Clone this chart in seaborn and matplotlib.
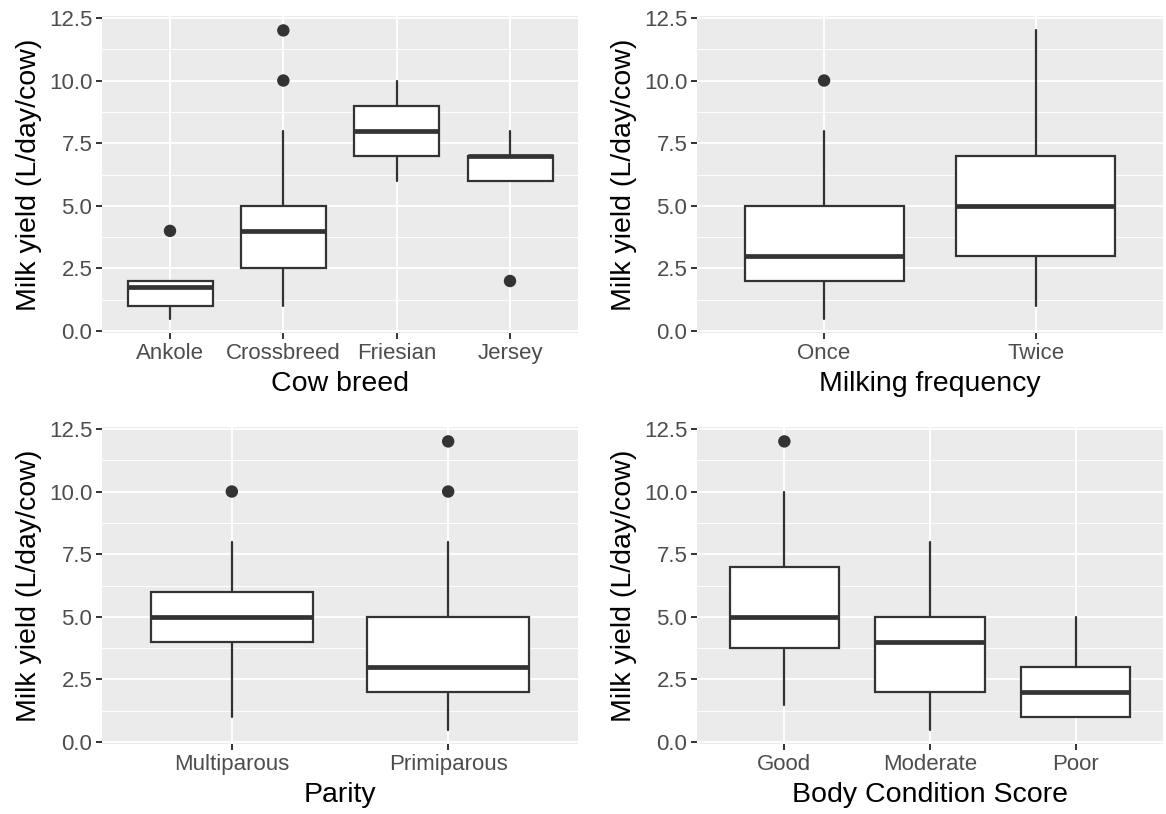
import matplotlib
matplotlib.use("Agg")
import matplotlib.pyplot as plt
import numpy as np
import pandas as pd
import seaborn as sns
from matplotlib.ticker import MultipleLocator, FormatStrFormatter

# ---------------- data (summary statistics) ----------------
breed_cats = ["Ankole", "Crossbreed", "Friesian", "Jersey"]
breed_wlo = [0.5, 1.0, 6.0, 6.0]
breed_q1 = [1.0, 2.5, 7.0, 6.0]
breed_med = [1.75, 4.0, 8.0, 7.0]
breed_q3 = [2.0, 5.0, 9.0, 7.0]
breed_whi = [2.0, 8.0, 10.0, 8.0]
breed_out = [[4.0], [10.0, 12.0], [], [2.0]]

freq_cats = ["Once", "Twice"]
freq_wlo = [0.5, 1.0]
freq_q1 = [2.0, 3.0]
freq_med = [3.0, 5.0]
freq_q3 = [5.0, 7.0]
freq_whi = [8.0, 12.0]
freq_out = [[10.0], []]

parity_cats = ["Multiparous", "Primiparous"]
parity_wlo = [1.0, 0.5]
parity_q1 = [4.0, 2.0]
parity_med = [5.0, 3.0]
parity_q3 = [6.0, 5.0]
parity_whi = [8.0, 8.0]
parity_out = [[10.0], [10.0, 12.0]]

bcs_cats = ["Good", "Moderate", "Poor"]
bcs_wlo = [1.5, 0.5, 1.0]
bcs_q1 = [3.75, 2.0, 1.0]
bcs_med = [5.0, 4.0, 2.0]
bcs_q3 = [7.0, 5.0, 3.0]
bcs_whi = [10.0, 8.0, 5.0]
bcs_out = [[12.0], [], []]

y_label = "Milk yield (L/day/cow)"

panels = [
    ("Cow breed", breed_cats, breed_wlo, breed_q1, breed_med, breed_q3, breed_whi, breed_out),
    ("Milking frequency", freq_cats, freq_wlo, freq_q1, freq_med, freq_q3, freq_whi, freq_out),
    ("Parity", parity_cats, parity_wlo, parity_q1, parity_med, parity_q3, parity_whi, parity_out),
    ("Body Condition Score", bcs_cats, bcs_wlo, bcs_q1, bcs_med, bcs_q3, bcs_whi, bcs_out),
]

# ---------------- style ----------------
sns.set_theme(style="darkgrid", rc={
    "axes.facecolor": "#EBEBEB",
    "grid.color": "white",
    "axes.edgecolor": "none",
})
plt.rcParams["font.family"] = ["Liberation Sans", "DejaVu Sans"]

W, H = 1166, 814
fig = plt.figure(figsize=(W / 100, H / 100), dpi=100)
fig.patch.set_facecolor("white")

# axes rectangles in pixels: (left, top, right, bottom)
rects_px = [
    (102, 16, 578, 333),
    (697, 16, 1163, 333),
    (102, 427, 578, 744),
    (697, 427, 1163, 744),
]

LINE = "#333333"

for (xlabel, cats, wlo, q1, med, q3, whi, outs), (l, t, r, b) in zip(panels, rects_px):
    ax = fig.add_axes([l / W, 1 - b / H, (r - l) / W, (b - t) / H])
    n = len(cats)
    pos = np.arange(n)
    stats = []
    for i in range(n):
        stats.append(dict(med=med[i], q1=q1[i], q3=q3[i],
                          whislo=wlo[i], whishi=whi[i], fliers=[]))
    ax.bxp(stats, positions=pos, widths=0.75, showfliers=False, showcaps=False,
           patch_artist=True,
           boxprops=dict(facecolor="white", edgecolor=LINE, linewidth=1.6),
           whiskerprops=dict(color=LINE, linewidth=1.6),
           medianprops=dict(color=LINE, linewidth=3.4, solid_capstyle="butt"),
           zorder=3)
    # outliers
    ox, oy = [], []
    for i, o in enumerate(outs):
        for v in o:
            ox.append(pos[i])
            oy.append(v)
    if ox:
        sns.scatterplot(x=ox, y=oy, ax=ax, color=LINE, s=80, edgecolor="none",
                        zorder=4, legend=False)

    ax.set_xlim(-0.6, n - 1 + 0.6)
    ax.set_ylim(-0.075, 12.575)
    ax.set_xticks(pos)
    ax.set_xticklabels(cats)
    ax.yaxis.set_major_locator(MultipleLocator(2.5))
    ax.yaxis.set_minor_locator(MultipleLocator(1.25))
    ax.yaxis.set_major_formatter(FormatStrFormatter("%.1f"))
    ax.grid(which="major", axis="both", color="white", linewidth=1.4)
    ax.grid(which="minor", axis="y", color="white", linewidth=0.7)
    ax.grid(which="minor", axis="x", visible=False)
    ax.set_axisbelow(True)
    ax.tick_params(axis="both", which="major", length=4, width=1.4, color=LINE,
                   labelsize=16, labelcolor="#4D4D4D", pad=3, direction="out")
    ax.tick_params(axis="y", which="minor", length=0)
    ax.tick_params(bottom=True, left=True)
    ax.set_xlabel(xlabel, fontsize=20.5, color="black", labelpad=5)
    ax.set_ylabel(y_label, fontsize=20.5, color="black", labelpad=5)
    for s in ax.spines.values():
        s.set_visible(False)

fig.savefig("out.png", dpi=100, facecolor="white")
